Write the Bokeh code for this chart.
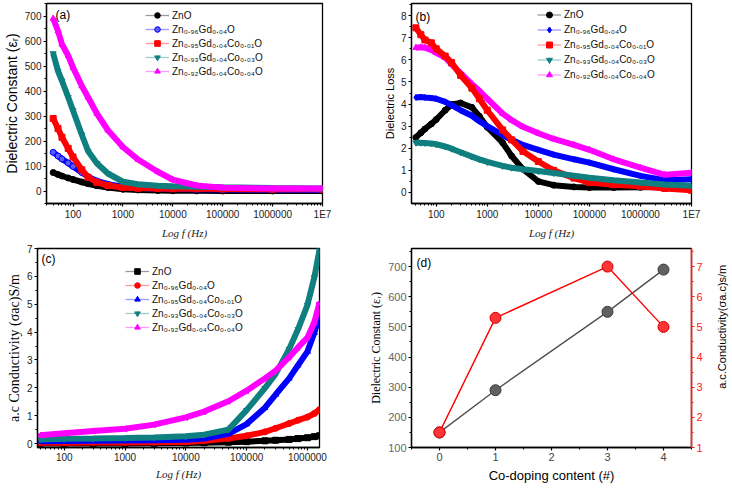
from bokeh.plotting import figure
from bokeh.models import (FixedTicker, Range1d, LinearAxis, Legend, LegendItem,
                          Label, CustomJSTickFormatter)
from bokeh.core.properties import value
from bokeh.layouts import column, row
from bokeh.embed import file_html
from bokeh.resources import INLINE

SANS = "Liberation Sans"
SERIF = "Liberation Serif"

# ---------------- data ----------------
NAMES = ["ZnO", "Zn₀.₉₆Gd₀.₀₄O", "Zn₀.₉₅Gd₀.₀₄Co₀.₀₁O",
         "Zn₀.₉₃Gd₀.₀₄Co₀.₀₃O", "Zn₀.₉₂Gd₀.₀₄Co₀.₀₄O"]

# (a) dielectric constant
A_FREQ = [40, 50, 60, 80, 100, 150, 200, 300, 500, 1000, 2000, 5000, 10000,
          30000, 100000, 1000000, 10000000]
A_ZNO = [74, 66, 60, 52, 46, 36, 29, 21, 14, 7, 4, 2, 1, 0.5, 0, 0, 0]
A_GD = [155, 140, 128, 112, 98, 74, 57, 40, 27, 17, 12, 9, 8, 7, 6, 5, 4]
A_CO1 = [290, 250, 215, 170, 136, 85, 55, 35, 22, 14, 11, 10, 9, 9, 8, 7, 7]
A_CO3 = [550, 480, 441, 375, 322, 225, 160, 111, 70, 37, 27, 21, 19, 17, 15, 12, 10]
A_CO4 = [690, 640, 587, 541, 494, 420, 375, 310, 243, 176, 126, 77, 45, 22, 13, 10, 10]

# (b) dielectric loss
B_FREQ = [40, 50, 60, 80, 100, 150, 200, 300, 500, 700, 1000, 2000, 3000, 5000,
          10000, 20000, 50000, 100000, 300000, 1000000, 3000000, 10000000]
B_ZNO = [2.49, 2.7, 2.87, 3.1, 3.3, 3.72, 3.98, 4.05, 3.85, 3.45, 2.95, 2.25, 1.65,
         1.05, 0.5, 0.33, 0.25, 0.22, 0.22, 0.23, 0.25, 0.27]
B_GD = [4.3, 4.32, 4.3, 4.27, 4.24, 4.1, 3.95, 3.72, 3.47, 3.22, 3.0, 2.6, 2.38,
        2.15, 1.93, 1.71, 1.5, 1.35, 1.05, 0.75, 0.55, 0.6]
B_CO1 = [7.45, 7.14, 6.9, 6.77, 6.5, 6.17, 5.88, 5.3, 4.72, 4.24, 3.72, 2.83, 2.38,
         1.86, 1.4, 1.0, 0.65, 0.45, 0.35, 0.28, 0.18, 0.1]
B_CO3 = [2.25, 2.25, 2.24, 2.22, 2.18, 2.08, 1.98, 1.82, 1.62, 1.5, 1.38, 1.2, 1.12,
         1.05, 0.97, 0.88, 0.76, 0.67, 0.55, 0.45, 0.36, 0.3]
B_CO4 = [6.55, 6.57, 6.55, 6.45, 6.32, 6.1, 5.8, 5.4, 4.9, 4.6, 4.24, 3.57, 3.27,
         2.97, 2.68, 2.42, 2.15, 1.93, 1.5, 1.12, 0.8, 0.89]

# (c) a.c. conductivity
C_FREQ = [40, 100, 300, 1000, 3000, 10000, 20000, 50000, 100000, 200000, 300000,
          500000, 700000, 1000000, 1300000, 1580000]
C_ZNO = [0.0, 0.0, 0.0, 0.0, 0.01, 0.02, 0.03, 0.05, 0.07, 0.1, 0.12, 0.15, 0.18,
         0.21, 0.25, 0.28]
C_GD = [0.03, 0.03, 0.04, 0.04, 0.05, 0.06, 0.1, 0.18, 0.28, 0.42, 0.55, 0.72, 0.84,
        0.95, 1.08, 1.22]
C_CO1 = [0.08, 0.09, 0.1, 0.11, 0.12, 0.14, 0.18, 0.35, 0.7, 1.29, 1.76, 2.34, 2.81,
         3.3, 3.98, 4.65]
C_CO3 = [0.15, 0.17, 0.18, 0.2, 0.22, 0.26, 0.32, 0.5, 1.2, 1.99, 2.5, 3.39, 4.1,
         4.97, 5.97, 6.95]
C_CO4 = [0.3, 0.37, 0.45, 0.53, 0.68, 0.94, 1.15, 1.52, 1.9, 2.34, 2.62, 3.1, 3.45,
         3.8, 4.35, 5.05]

# (d) summary vs co-doping content
D_X = [0, 1, 3, 4]
D_EPS = [150, 290, 550, 690]
D_SIG = [1.5, 5.3, 7.0, 5.0]

# tick labels
AB_XTICKS = [100, 1000, 10000, 100000, 1000000, 10000000]
AB_XLABELS = ["100", "1000", "10000", "100000", "1000000", "1E7"]
C_XTICKS = [100, 1000, 10000, 100000, 1000000]
C_XLABELS = ["100", "1000", "10000", "100000", "1000000"]
LOG_MINOR = [m * 10 ** e for e in range(1, 7) for m in range(2, 10)]

BLACK, BLUE, RED, TEAL, MAG = "#000000", "#0000FF", "#FF0000", "#0F7F7F", "#FF00FF"


# ---------------- helpers ----------------
def style_axis(ax, size="10px", color="#222222", line_color="black"):
    ax.axis_line_color = line_color
    ax.axis_line_width = 1.3
    ax.major_tick_line_color = line_color
    ax.minor_tick_line_color = line_color
    ax.major_tick_line_width = 1.2
    ax.minor_tick_line_width = 1.0
    ax.major_tick_out = 3
    ax.major_tick_in = 0
    ax.minor_tick_out = 2
    ax.minor_tick_in = 0
    ax.major_label_text_font = SANS
    ax.major_label_text_font_size = size
    ax.major_label_text_color = color
    ax.major_label_standoff = 2
    ax.axis_label_standoff = 2
    ax.axis_label_text_font_style = "normal"
    ax.axis_label_text_color = "black"


def make_fig(w, h, xr, yr, xlog, left, right, top, bottom):
    p = figure(width=w, height=h, x_range=Range1d(*xr), y_range=Range1d(*yr),
               x_axis_type="log" if xlog else "linear", output_backend="svg",
               toolbar_location=None, min_border_left=left, min_border_right=right,
               min_border_top=top, min_border_bottom=bottom)
    p.xgrid.visible = False
    p.ygrid.visible = False
    p.outline_line_color = "black"
    p.outline_line_width = 1.3
    p.outline_line_alpha = 1.0
    p.background_fill_color = "white"
    p.border_fill_color = "white"
    for ax in p.axis:
        style_axis(ax)
    return p


def log_xaxis(p, ticks, labels):
    p.xaxis.ticker = FixedTicker(ticks=ticks, minor_ticks=LOG_MINOR)
    p.xaxis.formatter = CustomJSTickFormatter(
        args=dict(tk=ticks, lb=labels),
        code="const i = tk.indexOf(tick); return i >= 0 ? lb[i] : '';")
    p.xaxis.axis_label = "Log f (Hz)"
    p.xaxis.axis_label_text_font = SERIF
    p.xaxis.axis_label_text_font_style = "italic"
    p.xaxis.axis_label_text_font_size = "11px"
    p.xaxis.axis_label_text_color = "#222222"
    p.xaxis.axis_label_standoff = 4


def series(p, x, y, color, marker, angle=0.0, fill=None):
    thin = p.line(x, y, line_color=color, line_alpha=0.4, line_width=1.3)
    p.line(x, y, line_color=color, line_width=6)
    sc = p.scatter(x, y, marker=marker, size=6, angle=angle,
                   fill_color=fill or color, line_color=color)
    return [thin, sc]


def legend(p, names, rends, vx, vy, row_h=14):
    items = [LegendItem(label=n, renderers=r) for n, r in zip(names, rends)]
    leg = Legend(items=items, location=(vx, vy), orientation="vertical",
                 border_line_alpha=0, background_fill_alpha=0, padding=0, margin=0,
                 spacing=0, glyph_width=24, glyph_height=row_h, label_height=row_h,
                 label_standoff=3, label_text_font=SANS, label_text_font_size="10px",
                 label_text_color="#111111")
    p.add_layout(leg)


def panel_label(p, text, x, y, xo, yo):
    p.add_layout(Label(x=x, y=y, x_offset=xo, y_offset=yo, text=text,
                       text_font=SANS, text_font_size="12px",
                       text_baseline="top", text_align="left", text_color="black"))


# ---------------- (a) ----------------
A_XR, A_YR = (29.4, 1e7), (-50, 750)
pa = make_fig(366, 244, A_XR, A_YR, True, 41, 44, 3, 41)
log_xaxis(pa, AB_XTICKS, AB_XLABELS)
pa.yaxis.ticker = FixedTicker(ticks=[0, 100, 200, 300, 400, 500, 600, 700],
                              minor_ticks=[-50, 50, 150, 250, 350, 450, 550, 650, 750])
pa.yaxis.axis_label = "Dielectric Constant (εᵣ)"
pa.yaxis.axis_label_text_font = SANS
pa.yaxis.axis_label_text_font_size = "14px"
ra = [series(pa, A_FREQ, A_ZNO, BLACK, "circle"),
      series(pa, A_FREQ, A_GD, BLUE, "circle", fill="#5A5AFF"),
      series(pa, A_FREQ, A_CO1, RED, "square"),
      series(pa, A_FREQ, A_CO3, TEAL, "inverted_triangle"),
      series(pa, A_FREQ, A_CO4, MAG, "triangle")]
legend(pa, NAMES, ra, 99, 125)
panel_label(pa, "(a)", A_XR[0], A_YR[1], 9, -4)

# ---------------- (b) ----------------
B_XR, B_YR = (32.8, 1e7), (-0.5, 8.55)
pb = make_fig(364, 244, B_XR, B_YR, True, 45, 39, 3, 37)
log_xaxis(pb, AB_XTICKS, AB_XLABELS)
pb.yaxis.ticker = FixedTicker(ticks=[0, 1, 2, 3, 4, 5, 6, 7, 8],
                              minor_ticks=[0.5, 1.5, 2.5, 3.5, 4.5, 5.5, 6.5, 7.5, 8.5])
pb.yaxis.axis_label = "Dielectric Loss"
pb.yaxis.axis_label_text_font = SANS
pb.yaxis.axis_label_text_font_size = "11px"
rb_zno = series(pb, B_FREQ, B_ZNO, BLACK, "circle")
rb_gd = series(pb, B_FREQ, B_GD, BLUE, "diamond")
rb_co4 = series(pb, B_FREQ, B_CO4, MAG, "triangle")
rb_co1 = series(pb, B_FREQ, B_CO1, RED, "square")
rb_co3 = series(pb, B_FREQ, B_CO3, TEAL, "inverted_triangle")
legend(pb, NAMES, [rb_zno, rb_gd, rb_co1, rb_co3, rb_co4], 126, 121, row_h=15)
panel_label(pb, "(b)", B_XR[0], B_YR[1], 4, -6)

# ---------------- (c) ----------------
C_XR, C_YR = (36.3, 1.58e6), (-0.14, 7)
pc = make_fig(366, 244, C_XR, C_YR, True, 37, 47, 4, 41)
log_xaxis(pc, C_XTICKS, C_XLABELS)
pc.yaxis.ticker = FixedTicker(ticks=[0, 1, 2, 3, 4, 5, 6, 7],
                              minor_ticks=[0.5, 1.5, 2.5, 3.5, 4.5, 5.5, 6.5])
pc.yaxis.axis_label = "a.c Conductivity (σac)S/m"
pc.yaxis.axis_label_text_font = SERIF
pc.yaxis.axis_label_text_font_size = "14px"
rc = [series(pc, C_FREQ, C_ZNO, BLACK, "square"),
      series(pc, C_FREQ, C_GD, RED, "circle"),
      series(pc, C_FREQ, C_CO1, BLUE, "triangle"),
      series(pc, C_FREQ, C_CO3, TEAL, "inverted_triangle"),
      series(pc, C_FREQ, C_CO4, MAG, "triangle", angle=1.5708)]
legend(pc, NAMES, rc, 88, 113)
panel_label(pc, "(c)", C_XR[0], C_YR[1], 4, -3)

# ---------------- (d) ----------------
D_XR, D_YR, D_YR2 = (-0.5, 4.5), (100, 760), (1, 7.6)
pd = make_fig(348, 244, D_XR, D_YR, False, 45, 23, 4, 38)
pd.extra_y_ranges = {"sig": Range1d(*D_YR2)}
rax = LinearAxis(y_range_name="sig")
pd.add_layout(rax, "right")
style_axis(rax, size="11px", color="#FF2020", line_color="#FF2020")
rax.axis_line_width = 1.6
rax.ticker = FixedTicker(ticks=[1, 2, 3, 4, 5, 6, 7],
                         minor_ticks=[1.5, 2.5, 3.5, 4.5, 5.5, 6.5, 7.5])
pd.xaxis.ticker = FixedTicker(ticks=[0, 1, 2, 3, 4],
                              minor_ticks=[-0.5, 0.5, 1.5, 2.5, 3.5, 4.5])
pd.xaxis.axis_label = "Co-doping content (#)"
pd.xaxis.axis_label_text_font = SANS
pd.xaxis.axis_label_text_font_size = "13px"
pd.xaxis.major_label_text_font_size = "11px"
pd.xaxis.major_label_text_color = "#444444"
pd.xaxis.axis_label_standoff = 4
pd.yaxis[0].ticker = FixedTicker(ticks=[100, 200, 300, 400, 500, 600, 700],
                                 minor_ticks=[150, 250, 350, 450, 550, 650, 750])
pd.yaxis[0].axis_label = "Dielectric Constant (εᵣ)"
pd.yaxis[0].axis_label_text_font = SERIF
pd.yaxis[0].axis_label_text_font_size = "12px"
pd.yaxis[0].major_label_text_font_size = "11px"
pd.yaxis[0].major_label_text_color = "#666666"
pd.line(D_X, D_EPS, line_color="#505050", line_width=1.4)
pd.scatter(D_X, D_EPS, marker="circle", size=11, fill_color="#606060",
           line_color="#3A3A3A")
pd.line(D_X, D_SIG, y_range_name="sig", line_color="#FF0000", line_width=1.4)
pd.scatter(D_X, D_SIG, y_range_name="sig", marker="circle", size=11,
           fill_color="#FF3535", line_color="#D00000")
panel_label(pd, "(d)", D_XR[0], D_YR[1], 5, -7)

# right-hand axis title of (d), reading bottom-to-top like the reference,
# drawn in a narrow strip figure whose frame fills the whole strip
pt = figure(width=16, height=244, title=None, toolbar_location=None,
            output_backend="svg", x_axis_location=None, y_axis_location=None,
            x_range=Range1d(0, 1), y_range=Range1d(0, 244),
            min_border_left=0, min_border_right=0, min_border_top=0,
            min_border_bottom=0, outline_line_color=None)
pt.xgrid.visible = False
pt.ygrid.visible = False
pt.text(x=[0.45], y=[148], text=["a.c.Conductivity(σa.c)s/m"], angle=1.5708,
        text_font=value(SANS), text_font_size="11px", text_color="black",
        text_align="center", text_baseline="middle")

layout = column(row(pa, pb), row(pc, pd, pt))
open("out.html", "w").write(file_html(layout, INLINE))
